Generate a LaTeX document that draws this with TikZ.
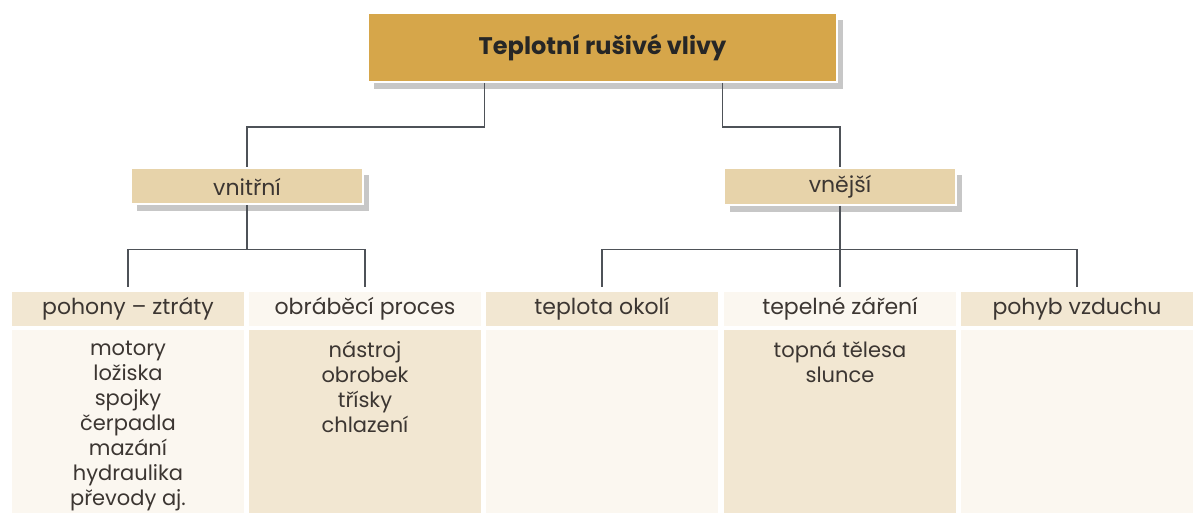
\documentclass[tikz,border=0pt]{standalone}
\usepackage{fontspec}
\setmainfont{Poppins}
\usetikzlibrary{shadows}
\definecolor{gold}{RGB}{214,166,74}
\definecolor{tan}{RGB}{231,211,170}
\definecolor{cellA}{RGB}{242,231,210}
\definecolor{cellB}{RGB}{251,247,240}
\definecolor{ink}{RGB}{60,54,50}
\definecolor{wire}{RGB}{78,82,88}

\begin{document}
\begin{tikzpicture}[x=0.5pt, y=-0.5pt,
  top/.style={fill=gold, draw=white, line width=1pt, minimum width=234.5pt, minimum height=34.5pt,
    drop shadow={shadow xshift=3pt, shadow yshift=-3.5pt, fill=black!55, opacity=0.4},
    font=\fontsize{12}{14}\selectfont\bfseries, text=black!85},
  mid/.style={fill=tan, draw=white, line width=1pt, minimum width=116pt, minimum height=18pt,
    drop shadow={shadow xshift=3pt, shadow yshift=-3.5pt, fill=black!55, opacity=0.4},
    font=\fontsize{11}{13}\selectfont, text=ink},
  head/.style={minimum width=116pt, minimum height=17pt, inner sep=0pt, font=\fontsize{11}{13}\selectfont, text=ink},
  cell/.style={minimum width=116pt, minimum height=91.5pt, inner sep=0pt, anchor=north},
  list/.style={anchor=north, align=center, inner sep=0pt, font=\fontsize{10.5}{12.5}\selectfont, text=ink},
  wire/.style={draw=wire, line width=0.8pt}]
  \useasboundingbox (0,0) rectangle (1195,513);

  \node[top] (root) at (602.5,47.5) {Teplotní rušivé vlivy};
  \node[mid] (vnitrni) at (247,186.5) {vnitřní};
  \node[mid] (vnejsi) at (840,186.5) {vnější};

  \foreach \i/\x/\hc/\bc/\t in {1/128/cellA/cellB/pohony – ztráty, 2/365/cellB/cellA/obráběcí proces,
      3/602/cellA/cellB/teplota okolí, 4/840/cellB/cellA/tepelné záření, 5/1077/cellA/cellB/pohyb vzduchu}{
    \node[head, fill=\hc] (h\i) at (\x,309) {\t};
    \node[cell, fill=\bc] (b\i) at (\x,330) {};
  }

  \node[list] (l1) at (b1.north) [yshift=-5.5pt] {motory\\ložiska\\spojky\\čerpadla\\mazání\\hydraulika\\převody aj.};
  \node[list] (l2) at (b2.north) [yshift=-5.5pt] {nástroj\\obrobek\\třísky\\chlazení};
  \node[list] (l4) at (b4.north) [yshift=-5.5pt] {topná tělesa\\slunce};

  \draw[wire] ([xshift=-59pt]root.south) -- ++(0,44) -| (vnitrni.north);
  \draw[wire] ([xshift=60pt]root.south) -- ++(0,44) -| (vnejsi.north);
  \draw[wire, shorten >=2.5pt] (vnitrni.south) -- ++(0,44) -| (h1.north);
  \draw[wire, shorten >=2.5pt] (vnitrni.south) ++(0,44) -| (h2.north);
  \draw[wire, shorten >=2.5pt] (vnejsi.south) -- (h4.north);
  \draw[wire, shorten >=2.5pt] (vnejsi.south) ++(0,44) -| (h3.north);
  \draw[wire, shorten >=2.5pt] (vnejsi.south) ++(0,44) -| (h5.north);
\end{tikzpicture}
\end{document}
